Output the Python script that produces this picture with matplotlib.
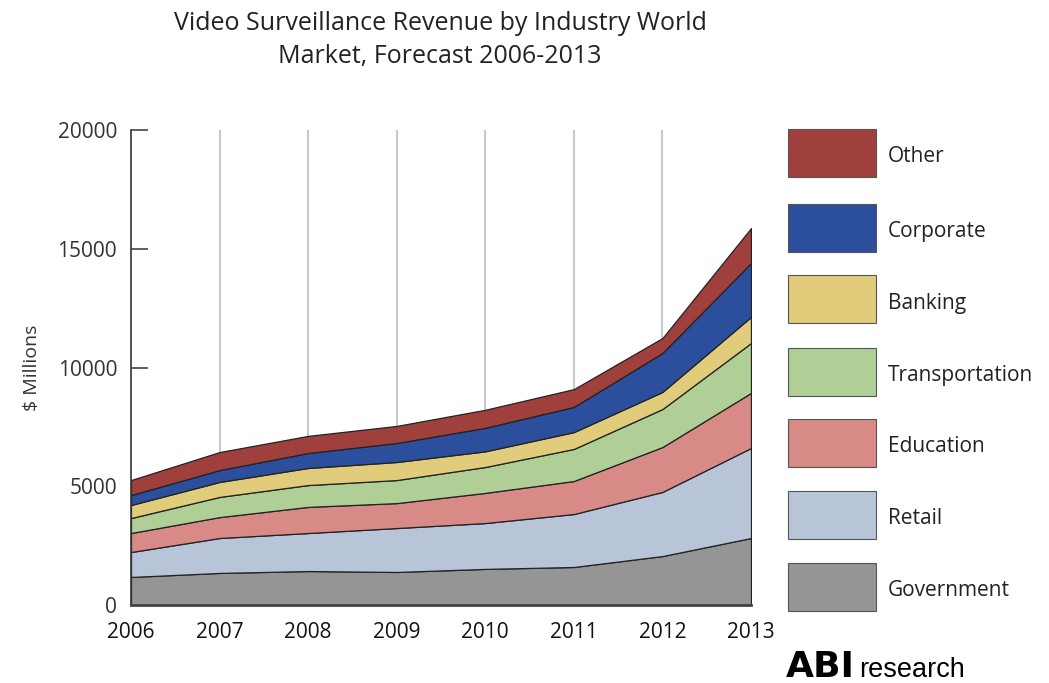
import matplotlib
matplotlib.use("Agg")
import matplotlib.pyplot as plt
from matplotlib.patches import Rectangle

years = [2006, 2007, 2008, 2009, 2010, 2011, 2012, 2013]
categories = ["Government", "Retail", "Education", "Transportation", "Banking", "Corporate", "Other"]
government = [1180, 1350, 1430, 1390, 1520, 1600, 2060, 2820]
retail = [1050, 1470, 1600, 1850, 1930, 2230, 2700, 3790]
education = [800, 880, 1100, 1050, 1270, 1390, 1890, 2320]
transportation = [630, 850, 920, 970, 1090, 1350, 1600, 2100]
banking = [550, 630, 720, 760, 660, 710, 720, 1100]
corporate = [420, 500, 630, 800, 990, 1060, 1640, 2270]
other = [630, 760, 720, 720, 760, 750, 630, 1470]
yticks = [0, 5000, 10000, 15000, 20000]

colors = ["#959595", "#b8c5d9", "#d88a87", "#afcf97", "#e1cc7c", "#2b4f9c", "#a0403d"]
series = [government, retail, education, transportation, banking, corporate, other]

plt.rcParams['font.family'] = ['Open Sans', 'DejaVu Sans']

fig = plt.figure(figsize=(10.49, 6.83), dpi=100)
ax = fig.add_axes([131/1049, 1-605/683, (751-131)/1049, (605-130)/683])

ax.vlines(years[1:-1], 0, 20000, colors="#bdbdbd", linewidth=1.2, zorder=0)
ax.stackplot(years, *series, colors=colors, edgecolor="#222222", linewidth=0.9, zorder=1)

ax.set_xlim(2006, 2013)
ax.set_ylim(0, 20000)
ax.set_yticks(yticks)
ax.set_yticklabels([str(v) for v in yticks], fontsize=15, color="#333333")
ax.set_xticks(years)
ax.set_xticklabels([str(y) for y in years], fontsize=15, color="#111111")
ax.tick_params(axis="y", direction="in", length=12, width=1.2, color="#444444", pad=10)
ax.tick_params(axis="x", length=0, pad=12)
ax.set_axisbelow(True)
for s in ["top", "right"]:
    ax.spines[s].set_visible(False)
ax.spines["left"].set_color("#333333")
ax.spines["left"].set_linewidth(1.2)
ax.spines["bottom"].set_color("#444444")
ax.spines["bottom"].set_linewidth(2)
ax.set_ylabel("$ Millions", fontsize=14, color="#333333", labelpad=12)

fig.text(440/1049, 1-40/683, "Video Surveillance Revenue by Industry World\nMarket, Forecast 2006-2013",
         ha="center", va="center", fontsize=18, color="#222222", linespacing=1.45)

# legend
legend_rows = [153, 228, 299, 372, 443, 515, 587]
for cat, col, yc in zip(categories[::-1], colors[::-1], legend_rows):
    fig.patches.append(Rectangle((788/1049, 1-(yc+24)/683), 88/1049, 48/683,
                                 transform=fig.transFigure, facecolor=col,
                                 edgecolor="#555555", linewidth=0.8))
    fig.text(888/1049, 1-(yc+4)/683, cat, ha="left", va="center", fontsize=15, color="#222222")

fig.text(786/1049, 1-677/683, "ABI", ha="left", va="baseline", fontsize=26, fontweight="bold",
         family="DejaVu Sans", color="#000000")
fig.text(859/1049, 1-677/683, "research", ha="left", va="baseline", fontsize=19.5,
         family="Liberation Sans", color="#000000")

fig.savefig("out.png", dpi=100)
